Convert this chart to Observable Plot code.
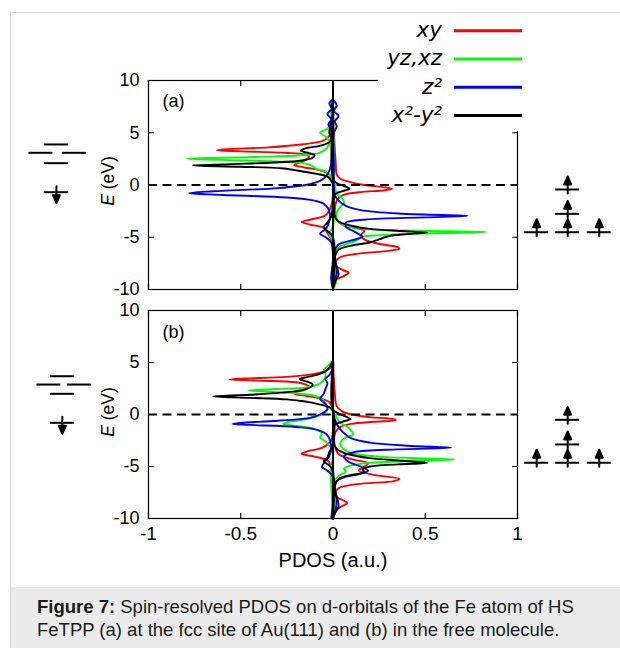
<!DOCTYPE html>
<html><head><meta charset="utf-8">
<script src="https://cdn.jsdelivr.net/npm/d3@7"></script>
<script src="https://cdn.jsdelivr.net/npm/@observablehq/plot@0.6"></script>
<style>
html,body{margin:0;padding:0;background:#fff;}
#wrap{position:relative;width:620px;height:648px;overflow:hidden;font-family:"Liberation Sans",Arial,sans-serif;}
#frame{position:absolute;left:10px;top:12px;right:-2px;bottom:-2px;border-left:1px solid #d9d9d9;border-top:1px solid #d9d9d9;}
.panel{position:absolute;left:0;}
#caption{position:absolute;left:11px;top:587px;width:609px;height:61px;background:#ebebeb;box-sizing:border-box;padding:8px 0 0 26px;font-size:18.5px;line-height:23px;color:#1a1a1a;white-space:nowrap;}
</style></head>
<body><div id="wrap"><div id="frame"></div><div id="pa" class="panel" style="top:0"></div><div id="pb" class="panel" style="top:300px"></div>
<div id="caption"><b>Figure 7:</b> Spin-resolved PDOS on d-orbitals of the Fe atom of HS<br>FeTPP (a) at the fcc site of Au(111) and (b) in the free molecule.</div></div>
<script>
// ---- categories, ticks, labels ----
const orbitals = ["xy", "yz,xz", "z²", "x²-y²"];
const orbitalColors = ["#ff0000", "#00ff00", "#0000ff", "#000000"];
const xTicks = [-1, -0.5, 0, 0.5, 1];
const yTicks = [-10, -5, 0, 5, 10];
const panelLabels = ["(a)", "(b)"];
const xLabel = "PDOS (a.u.)";

// ---- panel (a): [E (eV), PDOS] ; spin-down negative, spin-up positive ----
const a_xy_dn = [[8,0],[6,-0.005],[5,-0.01],[4.5,-0.03],[4.2,-0.06],[3.9,-0.16],[3.6,-0.35],[3.42,-0.58],[3.32,-0.63],[3.22,-0.5],[3.08,-0.26],[2.92,-0.15],[2.7,-0.13],[2.4,-0.15],[2.1,-0.19],[1.9,-0.21],[1.7,-0.16],[1.4,-0.07],[1.0,-0.02],[0.5,-0.005],[0,0],[-2,-0.01],[-2.9,-0.04],[-3.3,-0.12],[-3.55,-0.17],[-3.8,-0.12],[-4.1,-0.05],[-4.6,-0.03],[-5.2,-0.01],[-6,0],[-8,0],[-10,0]];
const a_xy_up = [[8,0],[5,0.005],[2,0.015],[1,0.02],[0.6,0.04],[0.3,0.09],[0,0.17],[-0.2,0.27],[-0.37,0.32],[-0.5,0.28],[-0.7,0.14],[-1.0,0.05],[-1.5,0.02],[-2.5,0.01],[-3.3,0.02],[-3.8,0.05],[-4.1,0.12],[-4.4,0.17],[-4.8,0.15],[-5.2,0.17],[-5.6,0.24],[-5.95,0.35],[-6.1,0.36],[-6.3,0.3],[-6.6,0.12],[-7.0,0.03],[-7.6,0.01],[-8.1,0.05],[-8.4,0.085],[-8.7,0.06],[-9.2,0.01],[-10,0]];
const a_yz_dn = [[8,0],[7,-0.01],[6,-0.01],[5.4,-0.03],[5.0,-0.07],[4.65,-0.04],[4.2,-0.02],[3.6,-0.03],[3.1,-0.07],[2.85,-0.17],[2.68,-0.42],[2.52,-0.79],[2.4,-0.6],[2.25,-0.3],[2.05,-0.15],[1.8,-0.11],[1.55,-0.09],[1.3,-0.04],[0.8,-0.01],[0,0],[-4,0],[-4.6,-0.02],[-5.5,0],[-10,0]];
const a_yz_up = [[8,0],[2,0.005],[0.5,0.005],[0,0.01],[-0.8,0.02],[-1.3,0.05],[-1.7,0.06],[-2.1,0.04],[-2.6,0.02],[-3.2,0.02],[-3.8,0.05],[-4.15,0.14],[-4.35,0.4],[-4.5,0.83],[-4.62,0.55],[-4.8,0.25],[-5.0,0.15],[-5.3,0.13],[-5.6,0.08],[-6.0,0.03],[-6.5,0.01],[-8,0.01],[-9,0.02],[-10,0]];
const a_z2_dn = [[8.2,0],[7.8,-0.02],[7.3,-0.005],[6.8,-0.03],[6.3,-0.01],[5.8,-0.025],[5.3,-0.01],[4.5,-0.005],[2,-0.01],[1,-0.03],[0.5,-0.06],[0.1,-0.12],[-0.3,-0.3],[-0.6,-0.65],[-0.78,-0.78],[-0.95,-0.6],[-1.2,-0.25],[-1.5,-0.1],[-1.8,-0.05],[-2.5,-0.02],[-3.5,-0.02],[-4.2,-0.04],[-4.65,-0.07],[-5.0,-0.04],[-5.5,-0.01],[-7,0],[-9,-0.01],[-10,0]];
const a_z2_up = [[8.2,0],[7.6,0.02],[7.1,0.005],[6.6,0.03],[6.1,0.01],[5.6,0.02],[5,0.005],[2,0.005],[0,0.005],[-1.0,0.01],[-1.5,0.03],[-2.0,0.07],[-2.4,0.15],[-2.75,0.38],[-2.95,0.73],[-3.1,0.5],[-3.3,0.18],[-3.6,0.07],[-4.0,0.07],[-4.5,0.12],[-4.95,0.16],[-5.3,0.1],[-5.7,0.03],[-6.3,0.01],[-8.5,0.02],[-9.5,0],[-10,0]];
const a_x2_dn = [[8,0],[7.5,-0.01],[7,0],[6,-0.01],[5,-0.02],[4.5,-0.01],[4.1,-0.02],[3.8,-0.06],[3.5,-0.15],[3.3,-0.175],[3.05,-0.13],[2.85,-0.1],[2.6,-0.11],[2.35,-0.17],[2.15,-0.32],[2.0,-0.55],[1.87,-0.76],[1.75,-0.5],[1.6,-0.28],[1.4,-0.2],[1.1,-0.1],[0.8,-0.03],[0.4,-0.01],[0,0],[-3,-0.01],[-3.6,-0.03],[-4.0,-0.05],[-4.4,-0.03],[-5,0],[-10,0]];
const a_x2_up = [[8,0],[0.6,0],[0.2,0.02],[-0.1,0.06],[-0.35,0.09],[-0.6,0.05],[-0.9,0.01],[-2,0.005],[-3.0,0.01],[-3.5,0.03],[-3.9,0.1],[-4.2,0.2],[-4.4,0.36],[-4.55,0.51],[-4.7,0.4],[-4.9,0.3],[-5.2,0.25],[-5.5,0.2],[-5.8,0.1],[-6.2,0.03],[-7,0.01],[-8.6,0.03],[-9.1,0.015],[-10,0]];

// ---- panel (b) ----
const b_xy_dn = [[5.2,0],[4.6,-0.01],[4.2,-0.04],[3.9,-0.1],[3.62,-0.25],[3.46,-0.48],[3.37,-0.56],[3.26,-0.4],[3.1,-0.2],[2.9,-0.15],[2.7,-0.13],[2.4,-0.15],[2.15,-0.2],[2.0,-0.21],[1.8,-0.15],[1.5,-0.06],[1.2,-0.02],[0.5,0],[-2.5,-0.01],[-3.2,-0.06],[-3.5,-0.13],[-3.78,-0.17],[-4.05,-0.1],[-4.4,-0.03],[-5,-0.01],[-6,0],[-10,0]];
const b_xy_up = [[5.2,0],[2,0.01],[0.8,0.02],[0.3,0.05],[0,0.1],[-0.25,0.2],[-0.45,0.33],[-0.55,0.34],[-0.7,0.22],[-0.9,0.1],[-1.2,0.04],[-1.8,0.01],[-3,0.01],[-3.8,0.03],[-4.3,0.1],[-4.7,0.19],[-5.0,0.17],[-5.4,0.14],[-5.8,0.22],[-6.2,0.36],[-6.4,0.33],[-6.7,0.13],[-7.1,0.03],[-7.8,0.01],[-8.2,0.05],[-8.5,0.077],[-8.8,0.05],[-9.3,0.01],[-10,0]];
const b_yz_dn = [[5.2,0],[4.8,-0.02],[4.3,-0.05],[3.9,-0.04],[3.3,-0.05],[2.9,-0.08],[2.6,-0.15],[2.45,-0.3],[2.31,-0.455],[2.2,-0.35],[2.0,-0.18],[1.8,-0.1],[1.5,-0.06],[1.0,-0.04],[0.5,-0.03],[0.1,-0.05],[-0.4,-0.13],[-0.75,-0.25],[-0.9,-0.27],[-1.1,-0.2],[-1.4,-0.1],[-1.8,-0.06],[-2.2,-0.07],[-2.6,-0.04],[-3.2,-0.01],[-4,0],[-5,-0.01],[-10,0]];
const b_yz_up = [[5.2,0],[0.3,0],[-0.3,0.02],[-0.8,0.04],[-1.2,0.08],[-1.6,0.1],[-1.9,0.11],[-2.3,0.06],[-2.7,0.04],[-3.2,0.05],[-3.7,0.1],[-4.05,0.25],[-4.2,0.45],[-4.33,0.66],[-4.45,0.45],[-4.65,0.2],[-4.9,0.1],[-5.2,0.06],[-5.5,0.07],[-5.8,0.04],[-6.3,0.01],[-8,0.01],[-10,0]];
const b_z2_dn = [[5.2,0],[4.5,0],[3.8,-0.02],[3.4,-0.04],[3.0,-0.03],[2.5,-0.04],[2.0,-0.05],[1.5,-0.07],[1.0,-0.04],[0.5,-0.03],[0.1,-0.06],[-0.3,-0.12],[-0.6,-0.3],[-0.8,-0.5],[-0.9,-0.545],[-1.0,-0.45],[-1.2,-0.2],[-1.5,-0.08],[-2,-0.03],[-3,-0.01],[-4,-0.02],[-4.7,-0.05],[-5.06,-0.06],[-5.4,-0.03],[-6,0],[-10,-0.01]];
const b_z2_up = [[5.2,0],[0.2,0],[-0.5,0.01],[-1.2,0.03],[-1.8,0.06],[-2.3,0.1],[-2.7,0.2],[-3.0,0.4],[-3.2,0.64],[-3.35,0.35],[-3.6,0.12],[-4.0,0.06],[-4.5,0.08],[-5.0,0.15],[-5.4,0.19],[-5.7,0.15],[-6.1,0.05],[-6.6,0.01],[-8.3,0.02],[-9.5,0.01],[-10,0]];
const b_x2_dn = [[5.2,0],[4.8,-0.01],[4.3,-0.03],[3.9,-0.07],[3.6,-0.14],[3.4,-0.18],[3.15,-0.14],[2.9,-0.11],[2.65,-0.12],[2.35,-0.17],[2.1,-0.28],[1.9,-0.45],[1.73,-0.65],[1.6,-0.45],[1.45,-0.25],[1.25,-0.15],[1.0,-0.08],[0.7,-0.02],[0.3,0],[-3,0],[-3.6,-0.02],[-4.1,-0.03],[-4.5,-0.05],[-4.9,-0.02],[-5.5,0],[-10,0]];
const b_x2_up = [[5.2,0],[0.5,0],[0.1,0.03],[-0.2,0.07],[-0.45,0.095],[-0.7,0.05],[-1.0,0.01],[-2.5,0],[-3.3,0.02],[-3.8,0.08],[-4.2,0.2],[-4.45,0.38],[-4.65,0.51],[-4.8,0.35],[-5.0,0.2],[-5.3,0.16],[-5.55,0.17],[-5.8,0.1],[-6.2,0.03],[-7,0.01],[-8.8,0.03],[-9.5,0.01],[-10,0]];

// ---- orbital level schemes (energies in eV) ----
const levelsA = [
  {side:"L", slot:"c", E:3.88}, {side:"L", slot:"l", E:3.08}, {side:"L", slot:"r", E:3.08}, {side:"L", slot:"c", E:2.09},
  {side:"L", slot:"c", E:-0.69, spin:"down"},
  {side:"R", slot:"c", E:-0.43, spin:"up"}, {side:"R", slot:"c", E:-2.76, spin:"up"},
  {side:"R", slot:"l", E:-4.52, spin:"up"}, {side:"R", slot:"c", E:-4.52, spin:"up"}, {side:"R", slot:"r", E:-4.52, spin:"up"}
];
const levelsB = [
  {side:"L", slot:"c", E:3.68}, {side:"L", slot:"l", E:2.88}, {side:"L", slot:"r", E:2.88}, {side:"L", slot:"c", E:1.99},
  {side:"L", slot:"c", E:-0.8, spin:"down"},
  {side:"R", slot:"c", E:-0.51, spin:"up"}, {side:"R", slot:"c", E:-2.88, spin:"up"},
  {side:"R", slot:"l", E:-4.64, spin:"up"}, {side:"R", slot:"c", E:-4.64, spin:"up"}, {side:"R", slot:"r", E:-4.64, spin:"up"}
];

// ---- layout (not data) ----
const slotsLeftA = {l:-1.583, c:-1.499, r:-1.402};
const slotsLeftB = {l:-1.540, c:-1.467, r:-1.375};
const slotsRight = {l:1.104, c:1.272, r:1.443};
const levelHalf = 0.065;

const lineShape = {draw(ctx, l) { ctx.moveTo(0, 0); ctx.lineTo(0, -l); }};
const arrowShape = {draw(ctx, l) {
  ctx.moveTo(0, 0); ctx.lineTo(0, -l + 5);
  ctx.moveTo(-3.5, -l + 8); ctx.lineTo(0, -l); ctx.lineTo(3.5, -l + 8); ctx.closePath();
}};

function rowsOf(curves) {
  const rows = [];
  orbitals.forEach((o, i) => {
    [["down", curves[i][0]], ["up", curves[i][1]]].forEach(([spin, pts]) => {
      pts.forEach(([E, v]) => rows.push({orbital: o, spin, key: o + "|" + spin, E, v}));
    });
  });
  return rows;
}

function makePanel({curves, levels, leftSlots, label, height, marginTop, marginBottom, showX, labelDy}) {
  const rows = rowsOf(curves);
  const lv = levels.map(d => ({...d, x: (d.side === "L" ? leftSlots : slotsRight)[d.slot]}));
  const marks = [
    Plot.line(rows, {x: "v", y: "E", z: "key", stroke: "orbital", strokeWidth: 1.9, curve: "catmull-rom"}),
    Plot.ruleX([0], {stroke: "#000", strokeWidth: 2}),
    Plot.ruleY([0], {stroke: "#000", strokeWidth: 1.8, strokeDasharray: "9,5.5"}),
    Plot.frame({stroke: "#000", strokeWidth: 1.2}),
    Plot.vector(xTicks, {x: d => d, y: 10, length: 5, rotate: 180, anchor: "start", shape: lineShape, strokeWidth: 1.2}),
    Plot.vector(xTicks, {x: d => d, y: -10, length: 5, rotate: 0, anchor: "start", shape: lineShape, strokeWidth: 1.2}),
    Plot.vector(yTicks, {x: -1, y: d => d, length: 5, rotate: 90, anchor: "start", shape: lineShape, strokeWidth: 1.2}),
    Plot.vector(yTicks, {x: 1, y: d => d, length: 5, rotate: -90, anchor: "start", shape: lineShape, strokeWidth: 1.2}),
    Plot.axisY({ticks: yTicks, tickSize: 0, tickPadding: 9, tickFormat: d => String(d), fontSize: 18}),
    Plot.text([label], {frameAnchor: "top-left", dx: 14, dy: labelDy, lineAnchor: "top", textAnchor: "start", fontSize: 18}),
    Plot.ruleY(lv, {y: "E", x1: d => d.x - levelHalf, x2: d => d.x + levelHalf, stroke: "#000", strokeWidth: 2}),
    Plot.vector(lv.filter(d => d.spin === "up"), {x: "x", y: "E", dy: 4, length: 17, rotate: 0, anchor: "start", shape: arrowShape, stroke: "#000", fill: "#000", strokeWidth: 2}),
    Plot.vector(lv.filter(d => d.spin === "down"), {x: "x", y: "E", dy: -6, length: 17, rotate: 180, anchor: "start", shape: arrowShape, stroke: "#000", fill: "#000", strokeWidth: 2})
  ];
  if (showX) {
    marks.push(Plot.axisX({ticks: xTicks, tickSize: 0, tickPadding: 8, tickFormat: d => String(d), fontSize: 19}));
    marks.push(Plot.text([xLabel], {frameAnchor: "bottom", dy: 42, lineAnchor: "middle", fontSize: 20, style: "letter-spacing:0.4px"}));
  }
  return Plot.plot({
    width: 620, height, marginTop, marginBottom, marginLeft: 148, marginRight: 103,
    x: {domain: [-1, 1], label: null, axis: null},
    y: {domain: [-10, 10], label: null, axis: null},
    color: {domain: orbitals, range: orbitalColors},
    style: {background: "none", fontFamily: "Liberation Sans, Arial, sans-serif", fontSize: "18px", color: "#000", overflow: "visible"},
    marks
  });
}

function addYLabel(svg, cx, cy) {
  const t = d3.select(svg).append("text")
    .attr("transform", `translate(${cx},${cy}) rotate(-90)`)
    .attr("text-anchor", "middle").attr("font-size", 17.5).attr("fill", "#000")
    .attr("font-family", "Liberation Sans, Arial, sans-serif");
  t.append("tspan").attr("font-style", "italic").text("E");
  t.append("tspan").text(" (eV)");
}

const svgA = makePanel({
  curves: [[a_xy_dn, a_xy_up], [a_yz_dn, a_yz_up], [a_z2_dn, a_z2_up], [a_x2_dn, a_x2_up]],
  levels: levelsA, leftSlots: slotsLeftA, label: panelLabels[0],
  height: 300, marginTop: 80, marginBottom: 11, showX: false, labelDy: 14
});
const svgB = makePanel({
  curves: [[b_xy_dn, b_xy_up], [b_yz_dn, b_yz_up], [b_z2_dn, b_z2_up], [b_x2_dn, b_x2_up]],
  levels: levelsB, leftSlots: slotsLeftB, label: panelLabels[1],
  height: 287, marginTop: 10, marginBottom: 69, showX: true, labelDy: 15
});
addYLabel(svgA, 113.5, 181);
addYLabel(svgB, 113.5, 112);

// legend (white box covering the top-right corner of panel a)
const lg = d3.select(svgA).append("g");
lg.append("rect").attr("x", 378).attr("y", 14).attr("width", 160).attr("height", 117).attr("fill", "#fff");
orbitals.forEach((o, i) => {
  const cy = 30.7 + i * 28.3;
  lg.append("text").attr("x", 442).attr("y", cy).attr("dy", "0.3em").attr("text-anchor", "end")
    .attr("font-family", "DejaVu Sans, sans-serif").attr("font-style", "italic").attr("font-size", 21.5).attr("fill", "#000").text(o);
  lg.append("line").attr("x1", 454).attr("x2", 522).attr("y1", cy).attr("y2", cy)
    .attr("stroke", orbitalColors[i]).attr("stroke-width", 3);
});

document.getElementById("pa").appendChild(svgA);
document.getElementById("pb").appendChild(svgB);
</script>
</body></html>
